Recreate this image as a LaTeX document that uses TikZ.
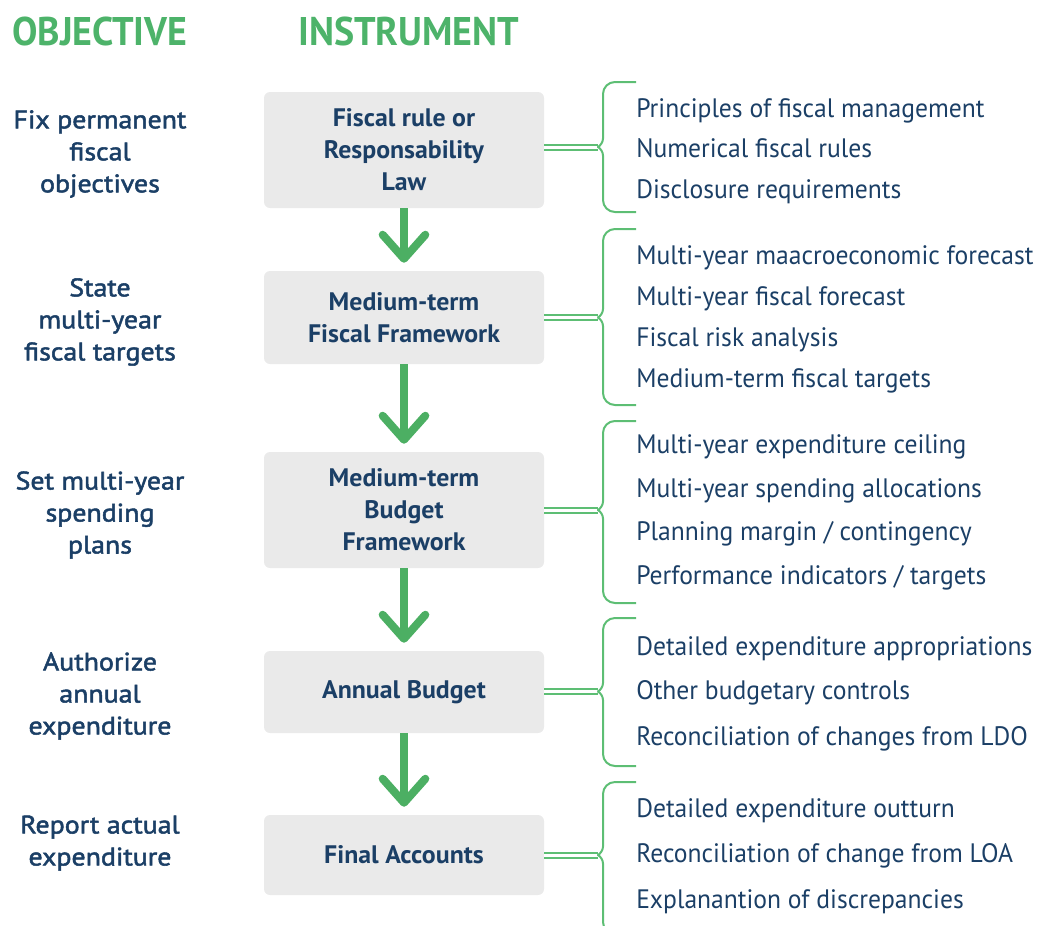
\documentclass[tikz,border=0pt]{standalone}
\usepackage{fontspec}
\setmainfont{PT Sans}[FakeStretch=0.96]
\newfontfamily\medfont{PT Sans}[FakeStretch=1.1,FakeBold=2]
\newfontfamily\heavyfont{PT Sans Bold}[FakeStretch=0.95]
\newfontfamily\boxfont{PT Sans Bold}[FakeStretch=1.02]
\usetikzlibrary{arrows.meta}
\definecolor{navy}{HTML}{1B3F66}
\definecolor{headgreen}{HTML}{4DB36A}
\definecolor{arrowgreen}{HTML}{4CAF63}
\definecolor{bracegreen}{HTML}{5DBE74}
\definecolor{boxgray}{HTML}{EAEAEA}
\begin{document}
\begin{tikzpicture}[x=0.75pt,y=-0.75pt,
  header/.style={anchor=base west, inner sep=0pt, text=headgreen,
    font=\heavyfont\fontsize{30}{36}\selectfont},
  objective/.style={align=center, text=navy, inner sep=0pt,
    font=\medfont\fontsize{19}{24}\selectfont},
  instrument/.style={fill=boxgray, rounded corners=4.5pt, minimum width=210pt,
    align=center, text=navy, inner sep=0pt,
    font=\boxfont\fontsize{19}{24}\selectfont},
  item/.style={anchor=base west, inner sep=0pt, text=navy,
    font=\fontsize{20}{24}\selectfont},
  flow/.style={draw=arrowgreen, line width=6pt, shorten >=6pt,
    -{Straight Barb[length=18pt,width=32pt,round]}},
  link/.style={draw=bracegreen, line width=1.5pt, double=white, double distance=2.25pt},
  brace/.style={draw=bracegreen, line width=1.5pt},
]
\useasboundingbox (0,0) rectangle (1037,925);

% column headers
\node[header] (hobj) at (12,45) {OBJECTIVE};
\node[header] (hins) at (298,45) {INSTRUMENT};

% objectives
\node[objective] (o1) at (100,154) {Fix permanent\\fiscal\\objectives};
\node[objective] (o2) at (100,322) {State\\multi-year\\fiscal targets};
\node[objective] (o3) at (100,515) {Set multi-year\\spending\\plans};
\node[objective] (o4) at (100,696) {Authorize\\annual\\expenditure};
\node[objective] (o5) at (100,843) {Report actual\\expenditure};

% instruments
\node[instrument, minimum height=87pt]   (b1) at (404,150)   {Fiscal rule or\\Responsability\\Law};
\node[instrument, minimum height=69.75pt](b2) at (404,317.5) {Medium-term\\Fiscal Framework};
\node[instrument, minimum height=87pt]   (b3) at (404,510)   {Medium-term\\Budget\\Framework};
\node[instrument, minimum height=61.5pt] (b4) at (404,692)   {Annual Budget};
\node[instrument, minimum height=60pt]   (b5) at (404,855)   {Final Accounts};

\draw[flow] (b1) -- (b2);
\draw[flow] (b2) -- (b3);
\draw[flow] (b3) -- (b4);
\draw[flow] (b4) -- (b5);

% brace tips
\coordinate (t1) at (598,147);
\coordinate (t2) at (598,317.5);
\coordinate (t3) at (598,510);
\coordinate (t4) at (598,691.5);
\coordinate (t5) at (598,855);

\foreach \b/\t in {b1/t1,b2/t2,b3/t3,b4/t4,b5/t5}
  \draw[link] (\b.east |- \t) -- (\t);

% curly braces: top, bottom, middle
\foreach \t/\top/\bot/\mid in {t1/82/212/147, t2/229/405/317.5, t3/421/603/510,
                               t4/618/766/691.5, t5/782/934/855}{
  \draw[brace] (636,\top) [rounded corners=9pt] -- (603,\top)
     [rounded corners=4.5pt] -- (603,\mid-2.5) [sharp corners] -- (\t);
  \draw[brace] (636,\bot) [rounded corners=9pt] -- (603,\bot)
     [rounded corners=4.5pt] -- (603,\mid+2.5) [sharp corners] -- (\t);
}

% components of each instrument
\node[item] (i11) at (636,117.5) {Principles of fiscal management};
\node[item] (i12) at (636,157.5) {Numerical fiscal rules};
\node[item] (i13) at (636,198.5) {Disclosure requirements};

\node[item] (i21) at (636,264.5) {Multi-year maacroeconomic forecast};
\node[item] (i22) at (636,305.5) {Multi-year fiscal forecast};
\node[item] (i23) at (636,346.5) {Fiscal risk analysis};
\node[item] (i24) at (636,387.5) {Medium-term fiscal targets};

\node[item] (i31) at (636,453.5) {Multi-year expenditure ceiling};
\node[item] (i32) at (636,497.5) {Multi-year spending allocations};
\node[item] (i33) at (636,540.5) {Planning margin / contingency};
\node[item] (i34) at (636,584.5) {Performance indicators / targets};

\node[item] (i41) at (636,655.5) {Detailed expenditure appropriations};
\node[item] (i42) at (636,699.5) {Other budgetary controls};
\node[item] (i43) at (636,745) {Reconciliation of changes from LDO};

\node[item] (i51) at (636,817) {Detailed expenditure outturn};
\node[item] (i52) at (636,862) {Reconciliation of change from LOA};
\node[item] (i53) at (636,908) {Explanantion of discrepancies};
\end{tikzpicture}
\end{document}
